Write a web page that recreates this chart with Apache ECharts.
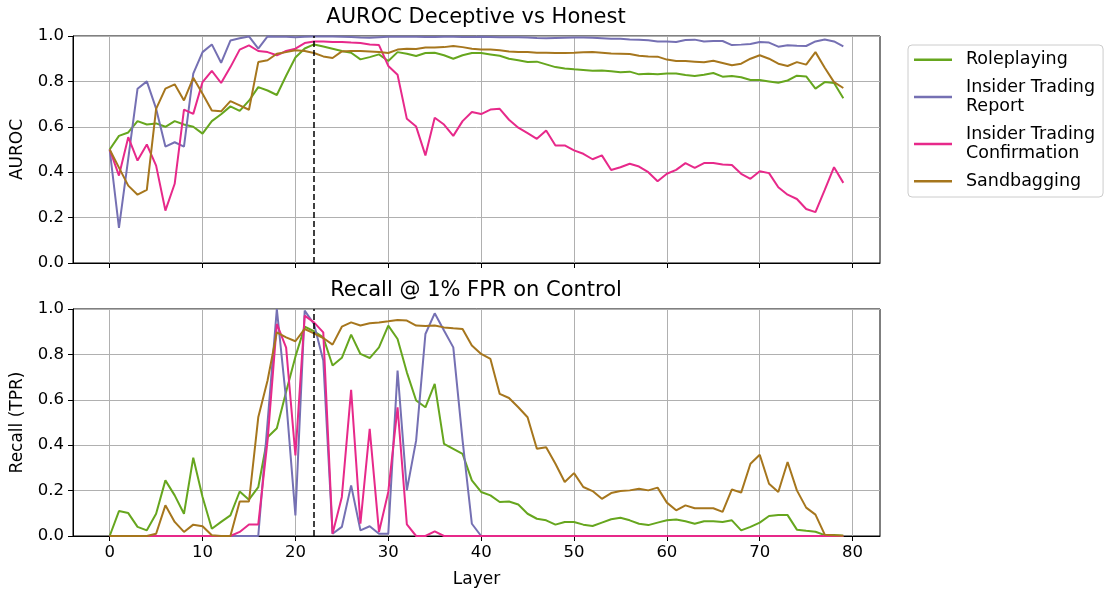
<!DOCTYPE html>
<html>
<head>
<meta charset="utf-8">
<script src="https://cdn.jsdelivr.net/npm/echarts@6/dist/echarts.min.js"></script>
<style>
  html, body { margin: 0; padding: 0; background: #fff; }
  #chart { width: 1108px; height: 590px; }
</style>
</head>
<body>
<div id="chart"></div>
<script>
// layer index 0..79 (x positions)
const layers = Array.from({ length: 80 }, (_, i) => i)
const xTicks = [0, 10, 20, 30, 40, 50, 60, 70, 80]
const bestLayer = 22

const seriesNames = ['Roleplaying', 'Insider Trading\nReport', 'Insider Trading\nConfirmation', 'Sandbagging']
const seriesColors = ['#66a61e', '#7570b3', '#e7298a', '#a6761d']

// AUROC deceptive vs honest, per layer
const aurocRoleplaying = [
  0.50, 0.56, 0.575, 0.625, 0.61, 0.615, 0.60, 0.625, 0.61, 0.60,
  0.57, 0.625, 0.655, 0.69, 0.67, 0.715, 0.775, 0.76, 0.74, 0.825,
  0.905, 0.945, 0.963, 0.954, 0.944, 0.934, 0.926, 0.897, 0.907, 0.919,
  0.89, 0.929, 0.922, 0.912, 0.925, 0.926, 0.915, 0.90, 0.915, 0.925,
  0.925, 0.919, 0.913, 0.90, 0.893, 0.885, 0.887, 0.875, 0.863, 0.857,
  0.853, 0.85, 0.847, 0.848, 0.845, 0.84, 0.843, 0.831, 0.834, 0.832,
  0.835, 0.835, 0.828, 0.824, 0.829, 0.837, 0.821, 0.824, 0.818, 0.806,
  0.806, 0.80, 0.794, 0.804, 0.825, 0.822, 0.768, 0.797, 0.793, 0.726
]
const aurocReport = [
  0.50, 0.155, 0.46, 0.768, 0.80, 0.68, 0.513, 0.532, 0.513, 0.834,
  0.929, 0.963, 0.882, 0.98, 0.99, 0.998, 0.944, 0.998, 0.997, 0.997,
  0.995, 0.997, 0.998, 0.998, 0.998, 0.997, 0.996, 0.993, 0.992, 0.995,
  0.997, 0.997, 0.997, 0.997, 0.996, 0.996, 0.997, 0.997, 0.996, 0.996,
  0.997, 0.996, 0.995, 0.995, 0.994, 0.993, 0.991, 0.99, 0.991, 0.992,
  0.993, 0.993, 0.992, 0.99, 0.988, 0.988, 0.985, 0.984, 0.981, 0.976,
  0.976, 0.974, 0.982, 0.984, 0.976, 0.978, 0.978, 0.96, 0.962, 0.965,
  0.974, 0.971, 0.953, 0.959, 0.957, 0.956, 0.976, 0.985, 0.976, 0.954
]
const aurocConfirmation = [
  0.50, 0.385, 0.554, 0.451, 0.522, 0.429, 0.231, 0.349, 0.676, 0.657,
  0.797, 0.846, 0.793, 0.863, 0.94, 0.959, 0.934, 0.929, 0.915, 0.934,
  0.944, 0.969, 0.976, 0.976, 0.974, 0.974, 0.971, 0.969, 0.963, 0.96,
  0.868, 0.829, 0.635, 0.601, 0.474, 0.64, 0.61, 0.56, 0.625, 0.665,
  0.656, 0.676, 0.679, 0.631, 0.596, 0.572, 0.547, 0.584, 0.518, 0.518,
  0.496, 0.481, 0.457, 0.474, 0.41, 0.422, 0.437, 0.425, 0.40, 0.36,
  0.393, 0.41, 0.44, 0.419, 0.44, 0.441, 0.434, 0.432, 0.393, 0.371,
  0.404, 0.396, 0.334, 0.301, 0.282, 0.238, 0.224, 0.322, 0.422, 0.353
]
const aurocSandbagging = [
  0.50, 0.42, 0.341, 0.301, 0.322, 0.679, 0.768, 0.787, 0.716, 0.816,
  0.746, 0.672, 0.668, 0.713, 0.694, 0.675, 0.885, 0.893, 0.922, 0.929,
  0.937, 0.934, 0.925, 0.91, 0.903, 0.932, 0.934, 0.934, 0.932, 0.929,
  0.925, 0.94, 0.944, 0.943, 0.949, 0.949, 0.951, 0.956, 0.951, 0.944,
  0.941, 0.94, 0.937, 0.932, 0.929, 0.929, 0.926, 0.926, 0.925, 0.925,
  0.926, 0.928, 0.929, 0.926, 0.923, 0.922, 0.921, 0.913, 0.91, 0.909,
  0.896, 0.89, 0.89, 0.887, 0.884, 0.891, 0.881, 0.871, 0.878, 0.90,
  0.915, 0.90, 0.878, 0.868, 0.885, 0.874, 0.929, 0.86, 0.797, 0.771
]

// Recall @ 1% FPR on control, per layer
const recallRoleplaying = [
  0, 0.11, 0.101, 0.04, 0.025, 0.098, 0.245, 0.179, 0.098, 0.345,
  0.172, 0.032, 0.062, 0.091, 0.196, 0.16, 0.215, 0.435, 0.475, 0.635,
  0.79, 0.922, 0.902, 0.875, 0.751, 0.785, 0.887, 0.802, 0.784, 0.831,
  0.927, 0.868, 0.721, 0.597, 0.567, 0.67, 0.406, 0.384, 0.362, 0.245,
  0.194, 0.179, 0.15, 0.152, 0.139, 0.098, 0.076, 0.069, 0.05, 0.062,
  0.062, 0.05, 0.044, 0.059, 0.074, 0.08, 0.069, 0.054, 0.048, 0.059,
  0.069, 0.073, 0.065, 0.054, 0.065, 0.065, 0.062, 0.069, 0.025, 0.04,
  0.059, 0.088, 0.092, 0.092, 0.028, 0.023, 0.019, 0.004, 0.004, 0.001
]
const recallReport = [
  0, 0, 0, 0, 0, 0, 0, 0, 0, 0,
  0, 0, 0, 0, 0, 0, 0, 0.5, 1.0, 0.6,
  0.091, 0.993, 0.934, 0.773, 0.01, 0.04, 0.223, 0.025, 0.043, 0.01,
  0.01, 0.729, 0.201, 0.421, 0.89, 0.981, 0.905, 0.831, 0.421, 0.054,
  0, 0, 0, 0, 0, 0, 0, 0, 0, 0,
  0, 0, 0, 0, 0, 0, 0, 0, 0, 0,
  0, 0, 0, 0, 0, 0, 0, 0, 0, 0,
  0, 0, 0, 0, 0, 0, 0, 0, 0, 0
]
const recallConfirmation = [
  0, 0, 0, 0, 0, 0, 0, 0, 0, 0,
  0, 0, 0, 0, 0.018, 0.051, 0.051, 0.42, 0.934, 0.83,
  0.355, 0.971, 0.941, 0.897, 0.01, 0.172, 0.644, 0.054, 0.472, 0.018,
  0.194, 0.567, 0.051, 0, 0, 0.02, 0, 0, 0, 0,
  0, 0, 0, 0, 0, 0, 0, 0, 0, 0,
  0, 0, 0, 0, 0, 0, 0, 0, 0, 0,
  0, 0, 0, 0, 0, 0, 0, 0, 0, 0,
  0, 0, 0, 0, 0, 0, 0, 0, 0, 0
]
const recallSandbagging = [
  0, 0, 0, 0, 0, 0.01, 0.135, 0.062, 0.018, 0.05,
  0.043, 0.003, 0, 0, 0.152, 0.152, 0.523, 0.685, 0.897, 0.875,
  0.858, 0.912, 0.893, 0.872, 0.843, 0.922, 0.941, 0.927, 0.937, 0.941,
  0.946, 0.952, 0.949, 0.927, 0.925, 0.927, 0.919, 0.915, 0.912, 0.839,
  0.802, 0.78, 0.626, 0.608, 0.567, 0.523, 0.384, 0.391, 0.318, 0.238,
  0.277, 0.216, 0.198, 0.164, 0.189, 0.198, 0.201, 0.208, 0.201, 0.213,
  0.147, 0.113, 0.135, 0.122, 0.122, 0.122, 0.106, 0.205, 0.191, 0.318,
  0.358, 0.23, 0.194, 0.326, 0.201, 0.125, 0.094, 0.006, 0.003, 0.001
]

const aurocSeries = [aurocRoleplaying, aurocReport, aurocConfirmation, aurocSandbagging]
const recallSeries = [recallRoleplaying, recallReport, recallConfirmation, recallSandbagging]

const FONT = 'DejaVu Sans'
const gridColor = '#b0b0b0'

const makeX = (gridIndex, showLabels) => ({
  type: 'value',
  gridIndex,
  min: -3.95,
  max: 82.95,
  name: showLabels ? 'Layer' : '',
  nameLocation: 'middle',
  nameGap: 35,
  nameTextStyle: { color: '#000', fontSize: 17, fontFamily: FONT },
  axisLine: { show: true, onZero: false, lineStyle: { color: '#000', width: 1 } },
  axisTick: { show: true, inside: false, length: 5, customValues: xTicks, lineStyle: { color: '#000' } },
  axisLabel: { show: showLabels, customValues: xTicks, color: '#000', fontSize: 16.5, fontFamily: FONT, margin: 8 },
  splitLine: { show: true, lineStyle: { color: gridColor, width: 1 } }
})

const makeY = (gridIndex, name) => ({
  type: 'value',
  gridIndex,
  min: 0,
  max: 1,
  interval: 0.2,
  name,
  nameLocation: 'middle',
  nameGap: 47,
  nameTextStyle: { color: '#000', fontSize: 17, fontFamily: FONT },
  axisLine: { show: true, onZero: false, lineStyle: { color: '#000', width: 1 } },
  axisTick: { show: true, inside: false, length: 5, lineStyle: { color: '#000' } },
  axisLabel: { color: '#000', fontSize: 16.5, fontFamily: FONT, margin: 9, formatter: v => v.toFixed(1) },
  splitLine: { show: true, lineStyle: { color: gridColor, width: 1 } }
})

const series = []
;[aurocSeries, recallSeries].forEach((group, g) => {
  group.forEach((vals, i) => {
    const s = {
      name: seriesNames[i],
      type: 'line',
      xAxisIndex: g,
      yAxisIndex: g,
      symbol: 'none',
      data: layers.map(l => [l, vals[l]]),
      lineStyle: { color: seriesColors[i], width: 2 },
      itemStyle: { color: seriesColors[i] },
      emphasis: { disabled: true }
    }
    if (i === group.length - 1) {
      s.markLine = {
        silent: true,
        symbol: ['none', 'none'],
        label: { show: false },
        lineStyle: { color: '#000', type: [6, 3], width: 1.5 },
        data: [{ xAxis: bestLayer }]
      }
    }
    series.push(s)
  })
})

const chart = echarts.init(document.getElementById('chart'), null, { renderer: 'canvas' })
chart.setOption({
  animation: false,
  backgroundColor: '#fff',
  textStyle: { fontFamily: FONT },
  title: [
    { text: 'AUROC Deceptive vs Honest', left: 476, top: 7, textAlign: 'center', padding: 0,
      textStyle: { fontSize: 21, fontWeight: 'normal', color: '#000', fontFamily: FONT } },
    { text: 'Recall @ 1% FPR on Control', left: 476, top: 280, textAlign: 'center', padding: 0,
      textStyle: { fontSize: 21, fontWeight: 'normal', color: '#000', fontFamily: FONT } }
  ],
  grid: [
    { left: 73, top: 36, width: 807, height: 227, show: true, borderColor: '#000', borderWidth: 1, outerBoundsMode: 'none' },
    { left: 73, top: 309, width: 807, height: 227, show: true, borderColor: '#000', borderWidth: 1, outerBoundsMode: 'none' }
  ],
  xAxis: [makeX(0, false), makeX(1, true)],
  yAxis: [makeY(0, 'AUROC'), makeY(1, 'Recall (TPR)')],
  legend: {
    orient: 'vertical',
    left: 908,
    top: 45,
    padding: [5, 8, 6, 6],
    itemWidth: 38,
    itemHeight: 2.5,
    itemGap: 8,
    icon: 'rect',
    borderColor: '#cccccc',
    borderWidth: 1,
    borderRadius: 4,
    selectedMode: false,
    data: seriesNames.map(n => ({ name: n, icon: 'rect' })),
    textStyle: { fontSize: 17.5, lineHeight: 19.5, color: '#000', fontFamily: FONT, padding: [0, 0, 0, 9] }
  },
  series
})
</script>
</body>
</html>
